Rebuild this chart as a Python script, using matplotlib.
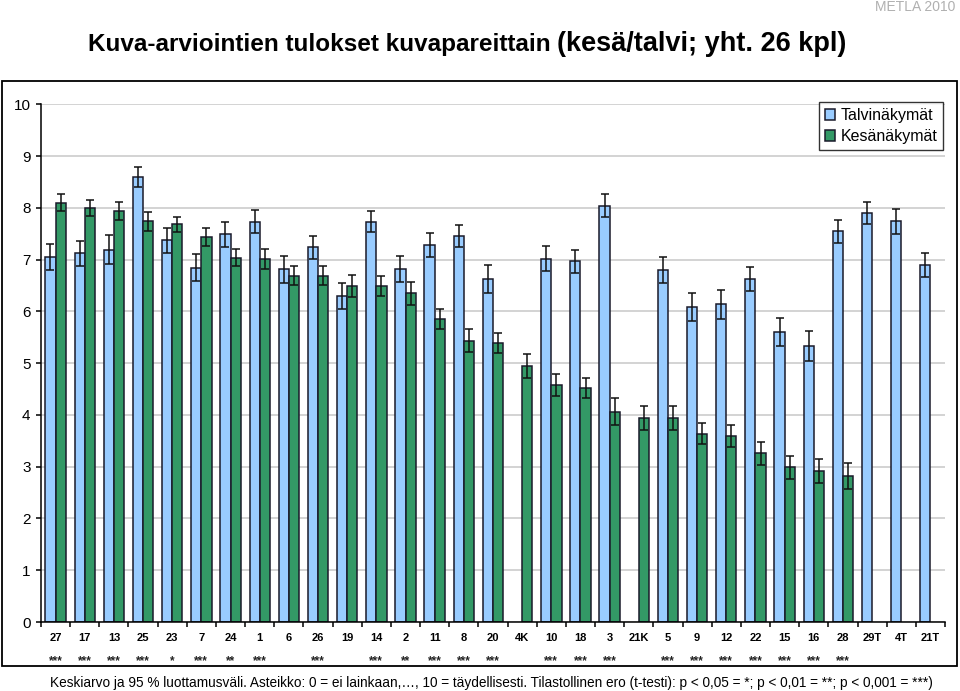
import numpy as np
import matplotlib
matplotlib.use("Agg")
import matplotlib.pyplot as plt
from matplotlib import font_manager as fm
from matplotlib.patches import Rectangle

nan = np.nan

cats = ["27", "17", "13", "25", "23", "7", "24", "1", "6", "26", "19", "14", "2", "11", "8", "20",
        "4K", "10", "18", "3", "21K", "5", "9", "12", "22", "15", "16", "28", "29T", "4T", "21T"]
stars = ["***", "***", "***", "***", "*", "***", "**", "***", "", "***", "", "***", "**", "***", "***", "***",
         "", "***", "***", "***", "", "***", "***", "***", "***", "***", "***", "***", "", "", ""]

talvi = [7.05, 7.12, 7.19, 8.59, 7.37, 6.84, 7.49, 7.73, 6.81, 7.24, 6.30, 7.73, 6.82, 7.28, 7.46, 6.63,
         nan, 7.02, 6.97, 8.04, nan, 6.80, 6.09, 6.14, 6.62, 5.60, 5.33, 7.55, 7.90, 7.74, 6.89]
talvi_err = [0.26, 0.24, 0.28, 0.19, 0.25, 0.26, 0.24, 0.22, 0.26, 0.22, 0.25, 0.20, 0.25, 0.23, 0.21, 0.27,
             nan, 0.24, 0.22, 0.22, nan, 0.26, 0.27, 0.28, 0.23, 0.27, 0.29, 0.22, 0.21, 0.24, 0.23]
kesa = [8.10, 8.00, 7.94, 7.74, 7.68, 7.44, 7.04, 7.01, 6.69, 6.69, 6.49, 6.49, 6.35, 5.85, 5.43, 5.39,
        4.95, 4.58, 4.52, 4.06, 3.94, 3.94, 3.64, 3.59, 3.26, 2.99, 2.92, 2.82, nan, nan, nan]
kesa_err = [0.16, 0.15, 0.17, 0.18, 0.15, 0.18, 0.17, 0.19, 0.19, 0.19, 0.21, 0.20, 0.22, 0.20, 0.22, 0.20,
            0.23, 0.21, 0.20, 0.26, 0.23, 0.23, 0.21, 0.21, 0.22, 0.22, 0.23, 0.26, nan, nan, nan]


def has_font(name):
    try:
        fm.findfont(fm.FontProperties(family=name), fallback_to_default=False)
        return True
    except ValueError:
        return False


base = "Liberation Sans" if has_font("Liberation Sans") else "DejaVu Sans"
narrow = "Liberation Sans Narrow" if has_font("Liberation Sans Narrow") else base
plt.rcParams["font.family"] = [base, "DejaVu Sans"]

fig = plt.figure(figsize=(9.6, 6.91), dpi=100)
ax = fig.add_axes([41 / 960, 1 - 622 / 691, 904 / 960, (622 - 104.3) / 691])

x = np.arange(len(cats))
w = 0.35
blue = "#99CCFF"
green = "#339966"
edge = "#1a1a2a"

ax.bar(x - w / 2, talvi, w, color=blue, edgecolor=edge, linewidth=1.1, label="Talvinäkymät", zorder=2)
ax.bar(x + w / 2, kesa, w, color=green, edgecolor=edge, linewidth=1.1, label="Kesänäkymät", zorder=2)
ax.errorbar(x - w / 2, talvi, yerr=talvi_err, fmt="none", ecolor="#111111", elinewidth=1.1,
            capsize=3.2, capthick=1.1, zorder=3)
ax.errorbar(x + w / 2, kesa, yerr=kesa_err, fmt="none", ecolor="#111111", elinewidth=1.1,
            capsize=3.2, capthick=1.1, zorder=3)

ax.set_xlim(-0.5, len(cats) - 0.5)
ax.set_ylim(0, 10)
ax.set_yticks(range(0, 11))
ax.yaxis.grid(True, color="#c8c8c8", linewidth=1.1, zorder=0)
ax.set_axisbelow(True)
for s in ["top", "right"]:
    ax.spines[s].set_visible(False)
for s in ["left", "bottom"]:
    ax.spines[s].set_linewidth(1.1)
ax.tick_params(axis="y", direction="out", length=3.5, width=1.1, labelsize=11, pad=4)

ax.set_xticks(x)
ax.set_xticklabels(cats, fontsize=8, fontweight="bold")
ax.set_xticks(np.arange(-0.5, len(cats)), minor=True)
ax.tick_params(axis="x", which="major", length=0, pad=8)
ax.tick_params(axis="x", which="minor", direction="out", length=3.5, width=1.1)

for xi, s in zip(x, stars):
    if s:
        ax.text(xi, -0.076, s, transform=ax.get_xaxis_transform(), ha="center", va="center",
                fontsize=8.5, fontweight="bold", color="#222222")

leg = ax.legend(loc="upper right", bbox_to_anchor=(0.998, 1.004), fontsize=11.5, frameon=True,
                fancybox=False, handlelength=0.65, handleheight=0.65, handletextpad=0.35,
                labelspacing=0.4, borderpad=0.35, borderaxespad=0)
leg.get_frame().set_edgecolor("black")
leg.get_frame().set_linewidth(1.0)

fig.patches.append(Rectangle((2 / 960, 1 - 666 / 691), 954.7 / 960, (666 - 81) / 691,
                             transform=fig.transFigure, fill=False, edgecolor="black", linewidth=1.3))

fig.text(557 / 960, 1 - 44 / 691, "Kuva-arviointien tulokset kuvapareittain ", ha="right", va="center",
         fontsize=17.5, family=narrow, fontweight="bold")
fig.text(557 / 960, 1 - 44 / 691, "(kesä/talvi; yht. 26 kpl)", ha="left", va="center",
         fontsize=19.5, family=narrow, fontweight="bold")
fig.text(955 / 960, 1 - 7 / 691, "METLA 2010", ha="right", va="center", fontsize=10, color="#b0b0b0")
fig.text(491 / 960, 1 - 683 / 691,
         "Keskiarvo ja 95 % luottamusväli. Asteikko: 0 = ei lainkaan,\u2026, 10 = täydellisesti. "
         "Tilastollinen ero (t-testi): p < 0,05 = *; p < 0,01 = **; p < 0,001 = ***)",
         ha="center", va="center", fontsize=9.8)

fig.savefig("out.png", dpi=100)
